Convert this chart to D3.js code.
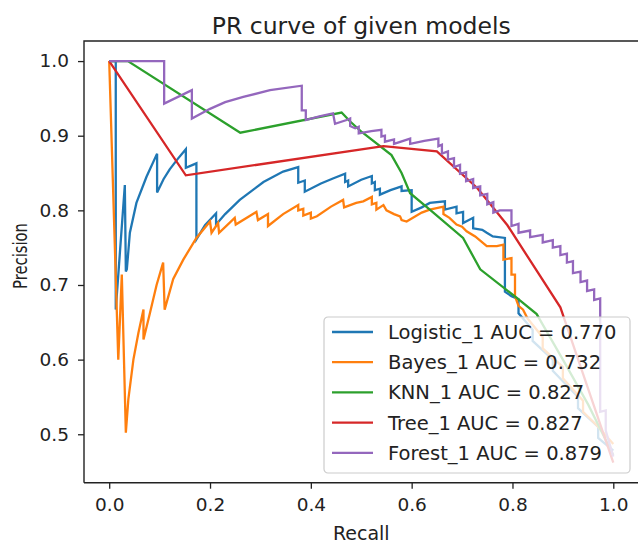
<!DOCTYPE html>
<html>
<head>
<meta charset="utf-8">
<script src="https://cdn.jsdelivr.net/npm/d3@7"></script>
<style>
  body { margin: 0; background: #ffffff; }
  svg { display: block; font-family: "DejaVu Sans", sans-serif; }
</style>
</head>
<body>
<svg id="chart" width="638" height="545"></svg>
<script>
// Models shown in the legend, in drawing order
const modelNames = ["Logistic_1", "Bayes_1", "KNN_1", "Tree_1", "Forest_1"];
const aucValues = ["0.770", "0.732", "0.827", "0.827", "0.879"];

// Tick values of both axes
const xTickValues = [0.0, 0.2, 0.4, 0.6, 0.8, 1.0];
const yTickValues = [0.5, 0.6, 0.7, 0.8, 0.9, 1.0];

// [recall, precision]
const logisticPoints = [
  [0, 1], [0.013, 1], [0.013, 0.667], [0.031, 0.834], [0.033, 0.718], [0.035, 0.721],
  [0.041, 0.770], [0.054, 0.810], [0.074, 0.845], [0.095, 0.876], [0.095, 0.824],
  [0.108, 0.842], [0.120, 0.855], [0.136, 0.869], [0.152, 0.882], [0.152, 0.857],
  [0.173, 0.863], [0.173, 0.761], [0.190, 0.780], [0.212, 0.796], [0.212, 0.781],
  [0.230, 0.795], [0.259, 0.814], [0.306, 0.838], [0.345, 0.852], [0.375, 0.858],
  [0.375, 0.837], [0.388, 0.840], [0.388, 0.825], [0.420, 0.836], [0.445, 0.843],
  [0.468, 0.849], [0.468, 0.838], [0.474, 0.840], [0.474, 0.832], [0.500, 0.841],
  [0.521, 0.846], [0.521, 0.836], [0.527, 0.838], [0.527, 0.827], [0.537, 0.829],
  [0.537, 0.821], [0.558, 0.827], [0.580, 0.832], [0.580, 0.826], [0.600, 0.827],
  [0.600, 0.798], [0.620, 0.804], [0.636, 0.810], [0.666, 0.812], [0.666, 0.801],
  [0.689, 0.805], [0.689, 0.796], [0.702, 0.798], [0.702, 0.783], [0.722, 0.790],
  [0.722, 0.776], [0.740, 0.774], [0.749, 0.770], [0.761, 0.765], [0.785, 0.763],
  [0.785, 0.691], [0.798, 0.685], [0.812, 0.681], [0.812, 0.662], [0.840, 0.640],
  [0.840, 0.625], [0.880, 0.600], [0.880, 0.585], [0.930, 0.550], [0.930, 0.535],
  [0.970, 0.510], [0.970, 0.495], [1.0, 0.478]
];
const bayesPoints = [
  [0, 1], [0.018, 0.600], [0.025, 0.714], [0.033, 0.502], [0.038, 0.547], [0.048, 0.600],
  [0.058, 0.636], [0.068, 0.667], [0.068, 0.627], [0.080, 0.660], [0.094, 0.700],
  [0.107, 0.730], [0.110, 0.667], [0.127, 0.708], [0.147, 0.734], [0.173, 0.763],
  [0.200, 0.785], [0.203, 0.770], [0.216, 0.783], [0.218, 0.770], [0.249, 0.790],
  [0.251, 0.781], [0.292, 0.798], [0.295, 0.787], [0.315, 0.795], [0.315, 0.779],
  [0.345, 0.795], [0.375, 0.807], [0.375, 0.800], [0.385, 0.802], [0.385, 0.793],
  [0.400, 0.797], [0.400, 0.789], [0.412, 0.792], [0.440, 0.805], [0.464, 0.814],
  [0.466, 0.804], [0.490, 0.810], [0.504, 0.812], [0.521, 0.818], [0.521, 0.808],
  [0.530, 0.810], [0.530, 0.801], [0.544, 0.807], [0.550, 0.800], [0.565, 0.795],
  [0.577, 0.792], [0.580, 0.787], [0.590, 0.785], [0.620, 0.797], [0.636, 0.801],
  [0.663, 0.805], [0.663, 0.795], [0.675, 0.790], [0.689, 0.781], [0.700, 0.778],
  [0.709, 0.772], [0.726, 0.765], [0.749, 0.752], [0.769, 0.752], [0.782, 0.754],
  [0.782, 0.734], [0.798, 0.736], [0.798, 0.714], [0.805, 0.714], [0.805, 0.685],
  [0.812, 0.672], [0.821, 0.667], [0.830, 0.655], [0.860, 0.630], [0.860, 0.615],
  [0.900, 0.590], [0.900, 0.575], [0.940, 0.545], [0.940, 0.530], [0.970, 0.510],
  [1.0, 0.487]
];
const knnPoints = [
  [0, 1], [0.037, 1], [0.260, 0.904], [0.461, 0.931], [0.478, 0.919], [0.501, 0.905],
  [0.560, 0.874], [0.580, 0.850], [0.597, 0.823], [0.636, 0.801], [0.702, 0.763],
  [0.736, 0.721], [0.808, 0.683], [0.848, 0.661], [0.900, 0.600], [0.950, 0.540],
  [1.0, 0.472]
];
const treePoints = [
  [0, 1], [0.152, 0.847], [0.544, 0.886], [0.650, 0.879], [0.730, 0.830],
  [0.790, 0.780], [0.895, 0.670], [1.0, 0.462]
];
const forestPoints = [
  [0, 1], [0.109, 1], [0.109, 0.943], [0.164, 0.961], [0.164, 0.923], [0.200, 0.936],
  [0.230, 0.945], [0.266, 0.952], [0.319, 0.961], [0.382, 0.967], [0.382, 0.934],
  [0.390, 0.934], [0.390, 0.921], [0.417, 0.926], [0.444, 0.930], [0.448, 0.916],
  [0.471, 0.921], [0.478, 0.923], [0.478, 0.913], [0.488, 0.910], [0.495, 0.912],
  [0.495, 0.903], [0.520, 0.906], [0.540, 0.908], [0.540, 0.899], [0.547, 0.900],
  [0.547, 0.892], [0.565, 0.895], [0.565, 0.889], [0.597, 0.896], [0.597, 0.889],
  [0.625, 0.893], [0.653, 0.896], [0.653, 0.886], [0.660, 0.888], [0.660, 0.876],
  [0.672, 0.879], [0.672, 0.868], [0.684, 0.870], [0.684, 0.858], [0.696, 0.861],
  [0.696, 0.849], [0.708, 0.851], [0.708, 0.839], [0.722, 0.842], [0.722, 0.830],
  [0.736, 0.832], [0.736, 0.820], [0.750, 0.822], [0.750, 0.808], [0.762, 0.811],
  [0.762, 0.797], [0.775, 0.800], [0.798, 0.800], [0.798, 0.779], [0.812, 0.782],
  [0.812, 0.770], [0.835, 0.773], [0.835, 0.764], [0.860, 0.767], [0.860, 0.757],
  [0.880, 0.760], [0.880, 0.750], [0.895, 0.752], [0.895, 0.740], [0.908, 0.742],
  [0.908, 0.730], [0.920, 0.732], [0.920, 0.716], [0.935, 0.718], [0.935, 0.704],
  [0.948, 0.706], [0.948, 0.692], [0.962, 0.694], [0.962, 0.680], [0.974, 0.682],
  [0.974, 0.530], [0.985, 0.532], [0.985, 0.505], [1.0, 0.470]
];

const curves = [logisticPoints, bayesPoints, knnPoints, treePoints, forestPoints];
const COLORS = ["#1f77b4", "#ff7f0e", "#2ca02c", "#d62728", "#9467bd"];

// Axes box (the right spine sits just outside the picture)
const box = { left: 84, top: 41, right: 638.5, bottom: 482.7 };

const svg = d3.select("#chart");

// matplotlib-like 5% padding round the data
const allRecall = curves.flat().map((d) => d[0]);
const allPrecision = curves.flat().map((d) => d[1]);
const [rMin, rMax] = d3.extent(allRecall);
const [pMin, pMax] = d3.extent(allPrecision);
const rPad = (rMax - rMin) * 0.05;
const pPad = (pMax - pMin) * 0.05;

const x = d3.scaleLinear().domain([rMin - rPad, rMax + rPad]).range([box.left, box.right]);
const y = d3.scaleLinear().domain([pMin - pPad, pMax + pPad]).range([box.bottom, box.top]);

// Clip curves to the axes area
svg.append("clipPath").attr("id", "plotClip")
  .append("rect")
  .attr("x", box.left).attr("y", box.top)
  .attr("width", box.right - box.left).attr("height", box.bottom - box.top);

// Curves
const line = d3.line().x((d) => x(d[0])).y((d) => y(d[1]));
svg.append("g")
  .attr("clip-path", "url(#plotClip)")
  .selectAll("path")
  .data(curves)
  .join("path")
  .attr("d", line)
  .attr("fill", "none")
  .attr("stroke", (d, i) => COLORS[i])
  .attr("stroke-width", 2.3)
  .attr("stroke-linejoin", "miter");

// Axes
const axisX = d3.axisBottom(x).tickValues(xTickValues).tickFormat(d3.format(".1f"))
  .tickSize(6).tickPadding(9);
const axisY = d3.axisLeft(y).tickValues(yTickValues).tickFormat(d3.format(".1f"))
  .tickSize(6).tickPadding(9);

const gx = svg.append("g").attr("transform", `translate(0, ${box.bottom})`).call(axisX);
const gy = svg.append("g").attr("transform", `translate(${box.left}, 0)`).call(axisY);
[gx, gy].forEach((g) => {
  g.select(".domain").remove();
  g.selectAll(".tick line").attr("stroke", "#222").attr("stroke-width", 1.3);
  g.selectAll(".tick text")
    .attr("fill", "#222")
    .style("font-family", "DejaVu Sans")
    .style("font-size", "18.5px");
});

// Spines
const spines = svg.append("g").attr("stroke", "#222").attr("stroke-width", 1.4).attr("fill", "none");
spines.append("path").attr("d", `M${box.left},${box.bottom}V${box.top}H${box.right}`);
spines.append("path").attr("d", `M${box.left},${box.bottom}H${box.right}`);

// Title and axis labels
svg.append("text")
  .text("PR curve of given models")
  .attr("x", (box.left + box.right) / 2)
  .attr("y", 34)
  .attr("text-anchor", "middle")
  .attr("fill", "#222")
  .style("font-size", "23.5px");

svg.append("text")
  .text("Recall")
  .attr("x", (box.left + box.right) / 2)
  .attr("y", 540)
  .attr("text-anchor", "middle")
  .attr("fill", "#222")
  .style("font-size", "19px");

svg.append("text")
  .text("Precision")
  .attr("transform", "translate(26.5, 256) rotate(-90)")
  .attr("text-anchor", "middle")
  .attr("textLength", 66)
  .attr("lengthAdjust", "spacingAndGlyphs")
  .attr("fill", "#222")
  .style("font-size", "19px");

// Legend, lower right, semi-transparent frame
const legend = svg.append("g").attr("transform", "translate(324, 317)");
legend.append("rect")
  .attr("width", 306)
  .attr("height", 156)
  .attr("rx", 4)
  .attr("fill", "#ffffff")
  .attr("fill-opacity", 0.8)
  .attr("stroke", "#cccccc")
  .attr("stroke-width", 1.2);

const rows = legend.selectAll("g.row")
  .data(modelNames)
  .join("g")
  .attr("class", "row")
  .attr("transform", (d, i) => `translate(0, ${15 + i * 30.2})`);
rows.append("line")
  .attr("x1", 8).attr("x2", 49)
  .attr("stroke", (d, i) => COLORS[i])
  .attr("stroke-width", 2.3);
rows.append("text")
  .text((d, i) => `${d} AUC = ${aucValues[i]}`)
  .attr("x", 64)
  .attr("y", 7)
  .attr("fill", "#222")
  .style("font-size", "19.5px");
</script>
</body>
</html>
